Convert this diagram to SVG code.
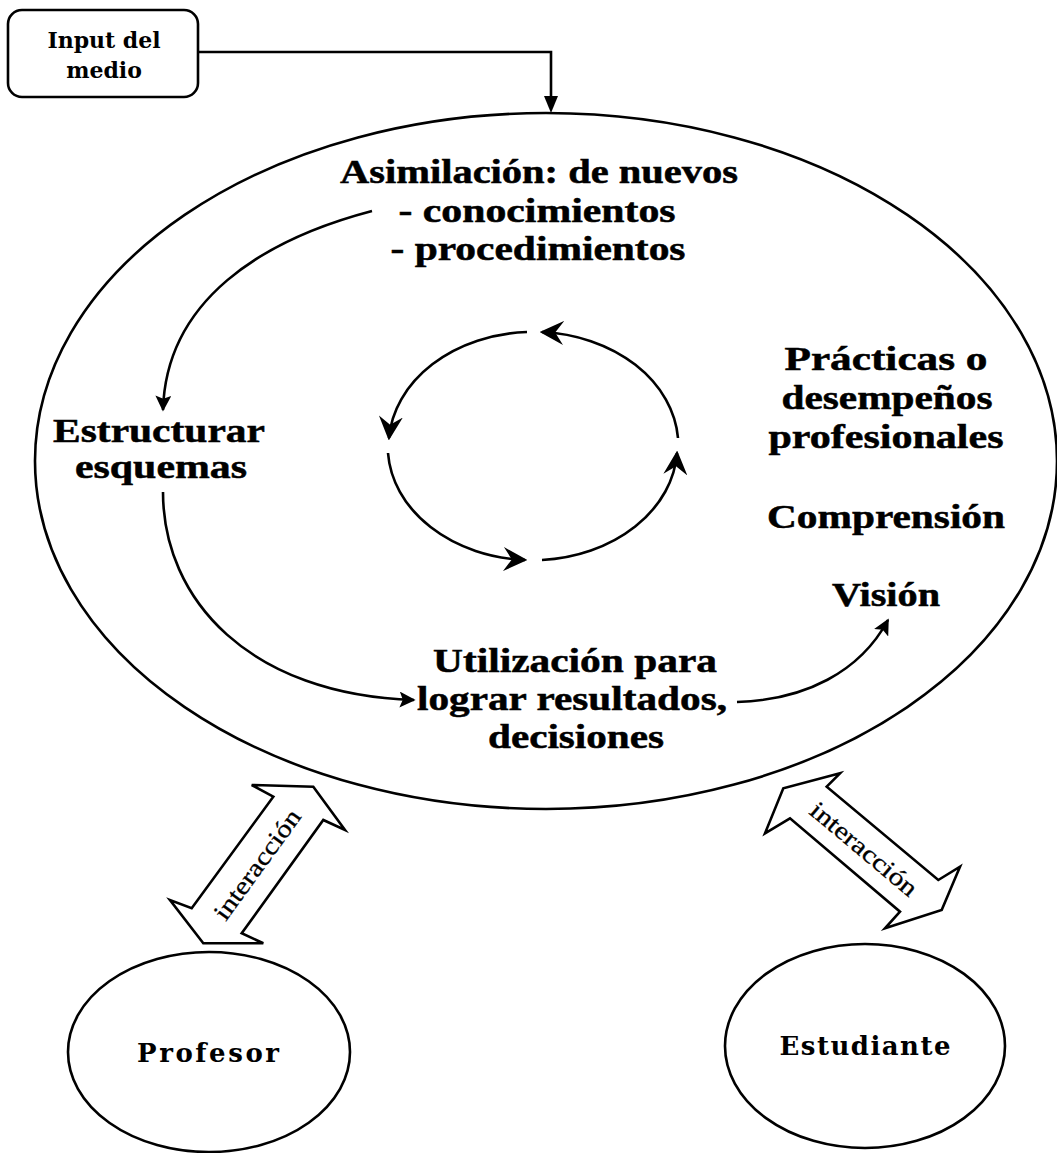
<svg xmlns="http://www.w3.org/2000/svg" width="1057" height="1153" viewBox="0 0 1057 1153">
<defs>
<style>
.ln{fill:none;stroke:#000;stroke-width:2.6}
.sh{fill:#fff;stroke:#000;stroke-width:2.6}
.bt{font-family:"Liberation Serif","Times New Roman",serif;font-weight:bold;font-size:33px;text-anchor:middle;fill:#000;stroke:#000;stroke-width:0.5}
.st{font-family:"DejaVu Serif",serif;font-weight:bold;font-size:22px;text-anchor:middle;fill:#000}
.nt{font-family:"DejaVu Serif",serif;font-weight:bold;font-size:26px;text-anchor:middle;fill:#000}
.it{font-family:"Liberation Serif","Times New Roman",serif;font-size:25px;text-anchor:middle;fill:#000;stroke:#000;stroke-width:0.3}
</style>
<marker id="tri" viewBox="0 0 10 10" refX="9" refY="5" markerWidth="16" markerHeight="16" markerUnits="userSpaceOnUse" orient="auto"><path d="M0,0 L10,5 L0,10 L2,5 z" fill="#000"/></marker>
<marker id="vee" viewBox="0 0 10 10" refX="9" refY="5" markerWidth="24" markerHeight="24" markerUnits="userSpaceOnUse" orient="auto"><path d="M0,0 L10,5 L0,10 L3.5,5 z" fill="#000"/></marker>
</defs>
<rect width="1057" height="1153" fill="#fff"/>

<g id="main">
<ellipse class="ln" cx="546" cy="461" rx="511" ry="348"/>
<text class="bt" x="539" y="183" textLength="398" lengthAdjust="spacingAndGlyphs">Asimilación: de nuevos</text>
<text class="bt" x="537" y="222" textLength="277" lengthAdjust="spacingAndGlyphs">- conocimientos</text>
<text class="bt" x="538" y="260" textLength="295" lengthAdjust="spacingAndGlyphs">- procedimientos</text>
</g>

<g id="input">
<rect class="ln" x="8" y="10" width="190" height="87" rx="14"/>
<text class="st" x="104" y="48">Input del</text>
<text class="st" x="104" y="78">medio</text>
</g>

<g id="estructurar">
<text class="bt" x="159" y="442" textLength="212" lengthAdjust="spacingAndGlyphs">Estructurar</text>
<text class="bt" x="161" y="478" textLength="172" lengthAdjust="spacingAndGlyphs">esquemas</text>
</g>

<g id="utilizacion">
<text class="bt" x="575" y="672" textLength="284" lengthAdjust="spacingAndGlyphs">Utilización para</text>
<text class="bt" x="572" y="710" textLength="310" lengthAdjust="spacingAndGlyphs">lograr resultados,</text>
<text class="bt" x="576" y="748" textLength="176" lengthAdjust="spacingAndGlyphs">decisiones</text>
</g>

<g id="practicas">
<text class="bt" x="886" y="370" textLength="203" lengthAdjust="spacingAndGlyphs">Prácticas o</text>
<text class="bt" x="887" y="409" textLength="211" lengthAdjust="spacingAndGlyphs">desempeños</text>
<text class="bt" x="886" y="448" textLength="235" lengthAdjust="spacingAndGlyphs">profesionales</text>
<text class="bt" x="886" y="528" textLength="238" lengthAdjust="spacingAndGlyphs">Comprensión</text>
<text class="bt" x="886" y="606" textLength="108" lengthAdjust="spacingAndGlyphs">Visión</text>
</g>

<g id="cycle">
<path class="ln" d="M527,332 A145,114 0 0 0 389,438" marker-end="url(#vee)"/>
<path class="ln" d="M388,453 A145,114 0 0 0 525,560" marker-end="url(#vee)"/>
<path class="ln" d="M542,560 A145,114 0 0 0 677,453" marker-end="url(#vee)"/>
<path class="ln" d="M678,438 A145,114 0 0 0 542,332" marker-end="url(#vee)"/>
</g>

<g id="profesor">
<ellipse class="ln" cx="209" cy="1052" rx="141" ry="100"/>
<text class="nt" x="208" y="1062" textLength="142" lengthAdjust="spacing">Profesor</text>
</g>

<g id="estudiante">
<ellipse class="ln" cx="865" cy="1046" rx="140" ry="102"/>
<text class="nt" x="865" y="1055" textLength="171" lengthAdjust="spacing">Estudiante</text>
</g>

<g id="arrow-profesor">
<polygon class="sh" points="251.7,785 313.3,786.7 345,830 323.3,820 241.7,933.3 263.3,943.3 203.3,943.3 170,900 191.7,908.3 273.3,796.7"/>
<text class="it" transform="translate(257.5,864.6) rotate(-54)" y="8" textLength="130" lengthAdjust="spacingAndGlyphs">interacción</text>
</g>

<g id="arrow-estudiante">
<polygon class="sh" points="840,773.3 826.7,786.7 938.3,880 960,866.7 941.7,910 885,928.3 900,911.7 790,818.3 765,833.3 783.3,788.3"/>
<text class="it" transform="translate(863.8,849.2) rotate(40)" y="8" textLength="132" lengthAdjust="spacingAndGlyphs">interacción</text>
</g>

<g id="connectors">
<path class="ln" d="M198,52 H551 V98" />
<path d="M544,96 L558,96 L551,113 z" fill="#000"/>
<path class="ln" d="M372,211 C262,240 166,300 163,410" marker-end="url(#tri)"/>
<path class="ln" d="M163,492 C163,600 250,695 414,700" marker-end="url(#tri)"/>
<path class="ln" d="M737,702 C805,700 860,672 888,620" marker-end="url(#tri)"/>
</g>
</svg>
